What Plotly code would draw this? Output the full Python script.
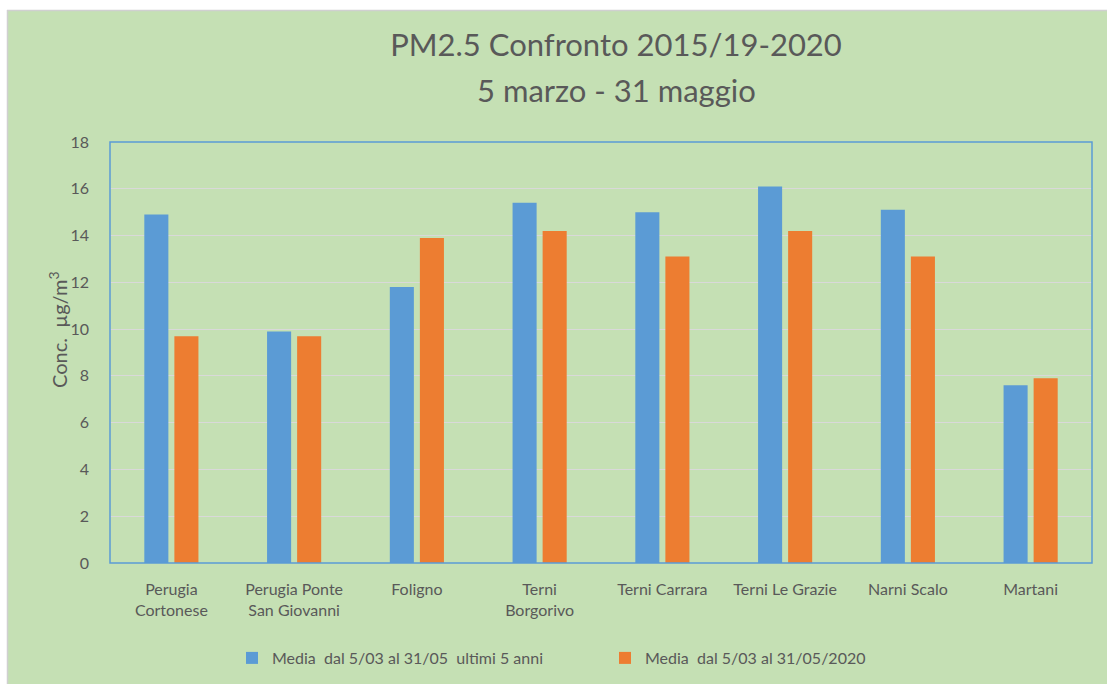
import plotly.graph_objects as go

categories = ["Perugia<br>Cortonese", "Perugia Ponte<br>San Giovanni", "Foligno", "Terni<br>Borgorivo",
              "Terni Carrara", "Terni Le Grazie", "Narni Scalo", "Martani"]
media_5anni = [14.9, 9.9, 11.8, 15.4, 15.0, 16.1, 15.1, 7.6]
media_2020 = [9.7, 9.7, 13.9, 14.2, 13.1, 14.2, 13.1, 7.9]
series_names = ["Media  dal 5/03 al 31/05  ultimi 5 anni", "Media  dal 5/03 al 31/05/2020"]
y_ticks = [0, 2, 4, 6, 8, 10, 12, 14, 16, 18]
title_line1 = "PM2.5 Confronto 2015/19-2020"
title_line2 = "5 marzo - 31 maggio"
y_title = "Conc.  µg/m<sup>3</sup>"

BLUE = "#5B9BD5"
ORANGE = "#ED7D31"
GREEN = "#C5E0B4"
TXT = "#595959"
FONT = "Lato, Open Sans, sans-serif"

W, H = 1107, 684
L, R, T, B = 110, 15, 142, 121
pw, ph = W - L - R, H - T - B

def px_x(px):
    return (px - L) / pw

def px_y(py):
    return (H - B - py) / ph

fig = go.Figure()
fig.add_trace(go.Bar(x=categories, y=media_5anni, name=series_names[0],
                     marker=dict(color=BLUE, line=dict(width=0))))
fig.add_trace(go.Bar(x=categories, y=media_2020, name=series_names[1],
                     marker=dict(color=ORANGE, line=dict(width=0))))

shapes = [
    dict(type="rect", xref="paper", yref="paper", x0=px_x(0), x1=px_x(W), y0=px_y(10), y1=px_y(0),
         fillcolor="white", line=dict(width=0), layer="below"),
    dict(type="rect", xref="paper", yref="paper", x0=px_x(0), x1=px_x(7), y0=px_y(H), y1=px_y(0),
         fillcolor="white", line=dict(width=0), layer="below"),
    dict(type="line", xref="paper", yref="paper", x0=px_x(7), x1=px_x(W), y0=px_y(10.5), y1=px_y(10.5),
         line=dict(color="#D0D0D0", width=1.5), layer="below"),
    dict(type="line", xref="paper", yref="paper", x0=px_x(7.5), x1=px_x(7.5), y0=px_y(H), y1=px_y(10),
         line=dict(color="#D0D0D0", width=1.5), layer="below"),
    dict(type="rect", xref="paper", yref="paper", x0=0, x1=1, y0=0, y1=1,
         line=dict(color=BLUE, width=1.5), layer="above"),
]

annotations = [
    dict(text=title_line2, xref="paper", yref="paper", x=px_x(616), y=px_y(90),
         xanchor="center", yanchor="middle", showarrow=False,
         font=dict(size=31, color=TXT, family=FONT)),
    dict(text=y_title, xref="paper", yref="paper", x=px_x(58), y=px_y(330),
         xanchor="center", yanchor="middle", showarrow=False, textangle=-90,
         font=dict(size=20, color=TXT, family=FONT)),
]

fig.update_layout(
    width=W, height=H,
    margin=dict(l=L, r=R, t=T, b=B, autoexpand=False),
    paper_bgcolor=GREEN, plot_bgcolor=GREEN,
    font=dict(family=FONT, color=TXT, size=16),
    title=dict(text=title_line1,
               x=616 / W, xanchor="center", y=1 - 45 / H, yanchor="middle",
               font=dict(size=31, color=TXT, family=FONT)),
    barmode="group", bargap=0.51, bargroupgap=0.2,
    xaxis=dict(showgrid=False, showline=False, ticks="", tickfont=dict(size=16, color=TXT),
               tickangle=0, automargin=False, ticklabelstandoff=15),
    yaxis=dict(range=[0, 18], tickvals=y_ticks, showgrid=True, gridcolor="#D9D9D9", gridwidth=1,
               zeroline=False, showline=False, ticks="", tickfont=dict(size=16, color=TXT),
               ticklabelstandoff=20, automargin=False),
    legend=dict(orientation="h", xanchor="center", x=px_x(605), yanchor="middle", y=px_y(658),
                font=dict(size=16, color=TXT), bgcolor="rgba(0,0,0,0)", itemclick=False,
                entrywidth=328, itemwidth=30),
    shapes=shapes,
    annotations=annotations,
    showlegend=True,
)

fig.write_html("out.html", config={"displayModeBar": False},
               post_script="document.body.style.margin='0';document.body.style.overflow='hidden';")
